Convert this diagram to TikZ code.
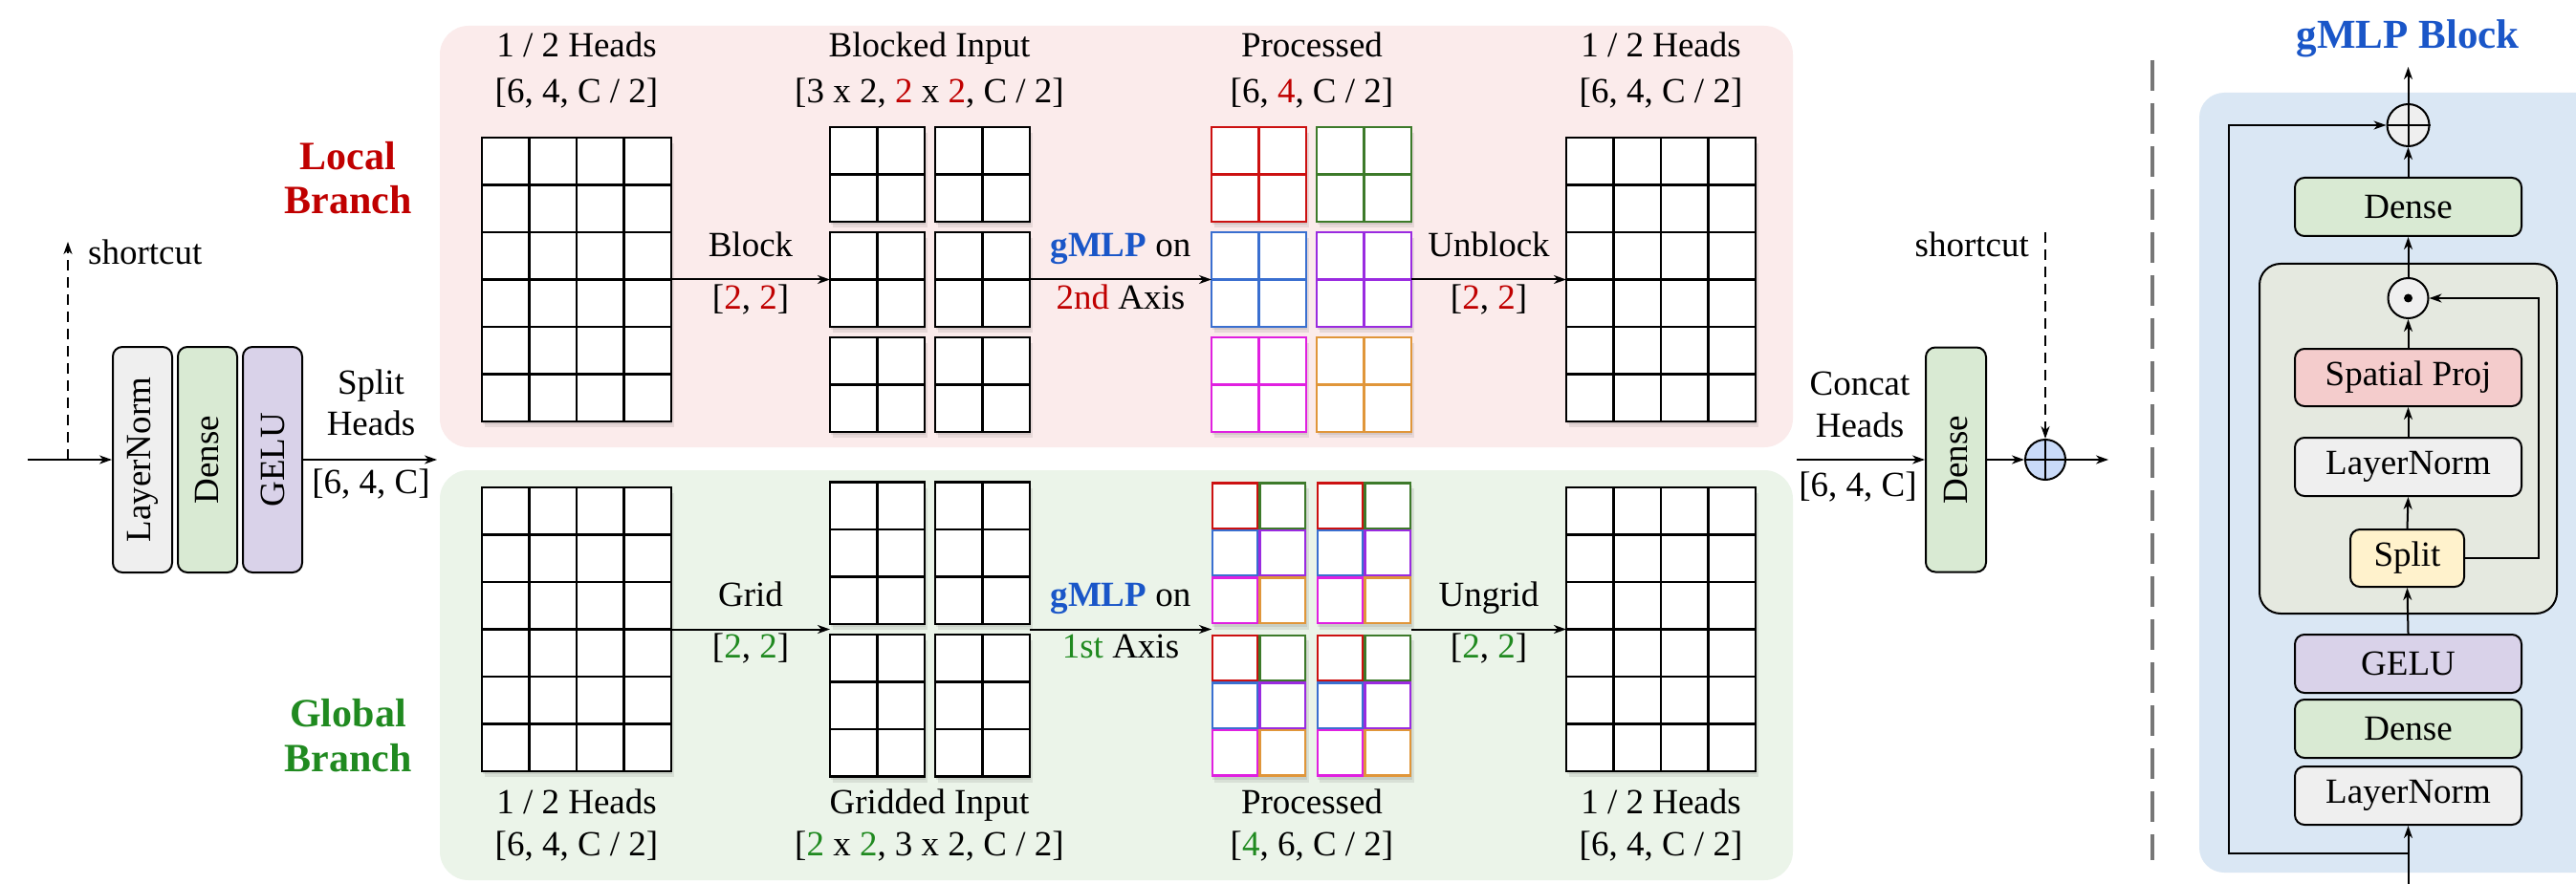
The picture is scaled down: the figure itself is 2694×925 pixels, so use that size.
\documentclass[tikz,border=0pt]{standalone}
\usepackage{fontspec}
\setmainfont{Liberation Serif}
\usetikzlibrary{arrows.meta}

\definecolor{lnfill}{HTML}{EFEFEF}
\definecolor{densefill}{HTML}{D9EAD3}
\definecolor{gelufill}{HTML}{D9D2E9}
\definecolor{spfill}{HTML}{F4CCCC}
\definecolor{splitfill}{HTML}{FFF2CC}
\definecolor{localbg}{HTML}{FBEBEB}
\definecolor{globalbg}{HTML}{EBF4E9}
\definecolor{blockbg}{HTML}{DAE7F4}
\definecolor{innerbg}{HTML}{E5E9E0}
\definecolor{addfill}{HTML}{C9DAF8}
\definecolor{opfill}{HTML}{EFEFEF}
\definecolor{lred}{HTML}{C00000}
\definecolor{ggreen}{HTML}{208A20}
\definecolor{gblue}{HTML}{1A56C8}
\definecolor{cred}{HTML}{CC1111}
\definecolor{cgreen}{HTML}{3D7A2A}
\definecolor{cblue}{HTML}{3A6FD0}
\definecolor{cpurple}{HTML}{9A2BE0}
\definecolor{cmag}{HTML}{E020E0}
\definecolor{corange}{HTML}{E0963A}
\definecolor{sepgray}{HTML}{777777}

% a block of square cells (49.5 units each): left, top, columns, rows, colour
\newcommand{\cellblock}[5]{%
  \fill[black, opacity=.08] ({#1+1},{#2+3}) rectangle ({#1+#3*49.5+1},{#2+#4*49.5+3});
  \fill[black, opacity=.08] ({#1+3},{#2+6}) rectangle ({#1+#3*49.5+3},{#2+#4*49.5+6});
  \fill[white] (#1,#2) rectangle ({#1+#3*49.5},{#2+#4*49.5});
  \foreach \ci in {1,...,#3}{\draw[cellline, draw=#5] ({#1+\ci*49.5},#2) -- ++(0,{#4*49.5});}
  \foreach \cj in {1,...,#4}{\draw[cellline, draw=#5] (#1,{#2+\cj*49.5}) -- ++({#3*49.5},0);}
  \draw[cellline, draw=#5] (#1,#2) rectangle ({#1+#3*49.5},{#2+#4*49.5});
}
% a 2 x 3 block whose cells carry the colours of their source windows
\newcommand{\mixblock}[2]{%
  \fill[black, opacity=.08] ({#1+1},{#2+3}) rectangle ({#1+99+1},{#2+148.5+3});
  \fill[black, opacity=.08] ({#1+3},{#2+6}) rectangle ({#1+99+3},{#2+148.5+6});
  \fill[white] (#1,#2) rectangle ({#1+99},{#2+148.5});
  \foreach \r/\ca/\cb in {0/cred/cgreen, 1/cblue/cpurple, 2/cmag/corange}{
    \draw[mixline, draw=\ca] ({#1+1},{#2+\r*49.5+1}) rectangle ++(47.5,47.5);
    \draw[mixline, draw=\cb] ({#1+50.5},{#2+\r*49.5+1}) rectangle ++(47.5,47.5);
  }
}

\begin{document}
\begin{tikzpicture}[x=1pt, y=-1pt,
  every node/.style={font=\fontsize{37}{44}\selectfont},
  lbl/.style={inner sep=0pt, text height=0.69em, text depth=0.2em},
  branchlbl/.style={inner sep=0pt, font=\fontsize{42}{50}\selectfont\bfseries, text height=0.69em, text depth=0.2em},
  extent/.style={inner sep=0pt, outer sep=0pt, draw=none},
  cellline/.style={line width=2.6pt, line cap=rect},
  mixline/.style={line width=2.4pt},
  arr/.style={line width=2pt, -{Stealth[length=13pt, width=9pt, inset=4pt]}},
  shortcutline/.style={line width=2pt, dash pattern=on 11pt off 7pt},
  layerbox/.style={draw, line width=2pt, rounded corners=10pt, inner sep=0pt},
  opnode/.style={circle, draw, line width=2pt, inner sep=0pt},
  sepline/.style={line width=4.5pt, draw=sepgray, dash pattern=on 32pt off 13pt}
]
\path[use as bounding box, fill=white] (0,0) rectangle (2694,925);

% ---------------- branch backgrounds ----------------
\fill[localbg, rounded corners=30pt] (460,27) rectangle (1875,468);
\fill[globalbg, rounded corners=30pt] (460,492) rectangle (1875,921);

% ---------------- input stage ----------------
\node[layerbox, fill=lnfill, minimum width=62pt, minimum height=236pt] (ln) at (149,481) {};
\node[layerbox, fill=densefill, minimum width=62pt, minimum height=236pt] (dn) at (217,481) {};
\node[layerbox, fill=gelufill, minimum width=62pt, minimum height=236pt] (gl) at (285,481) {};
\node[rotate=90, inner sep=0pt] (lnt) at (ln.center) {LayerNorm};
\node[rotate=90, inner sep=0pt] (dnt) at (dn.center) {Dense};
\node[rotate=90, inner sep=0pt] (glt) at (gl.center) {GELU};

\coordinate (inL) at (29,481);
\coordinate (scL) at (71,481);
\coordinate (scLtop) at (71,253);
\coordinate (splitend) at (457,481);
\draw[arr] (inL) -- (ln.west);
\draw[shortcutline, -{Stealth[length=13pt, width=9pt, inset=4pt]}] (scL) -- (scLtop);
\node[lbl, anchor=west] (scLtxt) at (92,274) {shortcut};
\draw[arr] (gl.east) -- (splitend);
\node[lbl] (splitA) at (388,410) {Split};
\node[lbl] (splitB) at (388,453) {Heads};
\node[lbl] (splitC) at (388,514) {[6, 4, C]};

\node[branchlbl, text=lred] (locA) at (364,175) {Local};
\node[branchlbl, text=lred] (locB) at (364,221) {Branch};
\node[branchlbl, text=ggreen] (gloA) at (364,758) {Global};
\node[branchlbl, text=ggreen] (gloB) at (364,805) {Branch};

% ---------------- local branch ----------------
\node[extent, minimum width=198pt, minimum height=297pt] (Lin) at (603,292.5) {};
\node[extent, minimum width=209pt, minimum height=319pt] (Lblk) at (972.5,292.5) {};
\node[extent, minimum width=209pt, minimum height=319pt] (Lproc) at (1371.5,292.5) {};
\node[extent, minimum width=198pt, minimum height=297pt] (Lout) at (1737,292.5) {};

\cellblock{504}{144}{4}{6}{black}
\foreach \by in {133,243,353}{
  \cellblock{868}{\by}{2}{2}{black}
  \cellblock{978}{\by}{2}{2}{black}
}
\cellblock{1267}{133}{2}{2}{cred}
\cellblock{1377}{133}{2}{2}{cgreen}
\cellblock{1267}{243}{2}{2}{cblue}
\cellblock{1377}{243}{2}{2}{cpurple}
\cellblock{1267}{353}{2}{2}{cmag}
\cellblock{1377}{353}{2}{2}{corange}
\cellblock{1638}{144}{4}{6}{black}

\draw[arr] (Lin.east) -- (Lblk.west);
\draw[arr] (Lblk.east) -- (Lproc.west);
\draw[arr] (Lproc.east) -- (Lout.west);

\node[lbl] (lt1) at (603,57) {1 / 2 Heads};
\node[lbl] (lt2) at (603,105) {[6, 4, C / 2]};
\node[lbl] (lt3) at (972,57) {Blocked Input};
\node[lbl] (lt4) at (972,105) {[3 x 2, \textcolor{lred}{2} x \textcolor{lred}{2}, C / 2]};
\node[lbl] (lt5) at (1372,57) {Processed};
\node[lbl] (lt6) at (1372,105) {[6, \textcolor{lred}{4}, C / 2]};
\node[lbl] (lt7) at (1737,57) {1 / 2 Heads};
\node[lbl] (lt8) at (1737,105) {[6, 4, C / 2]};
\node[lbl] (la1) at (785,266) {Block};
\node[lbl] (la2) at (785,321) {[\textcolor{lred}{2}, \textcolor{lred}{2}]};
\node[lbl] (la3) at (1172,266) {\textbf{\textcolor{gblue}{gMLP}} on};
\node[lbl] (la4) at (1172,321) {\textcolor{lred}{2nd} Axis};
\node[lbl] (la5) at (1557,266) {Unblock};
\node[lbl] (la6) at (1557,321) {[\textcolor{lred}{2}, \textcolor{lred}{2}]};

% ---------------- global branch ----------------
\node[extent, minimum width=198pt, minimum height=297pt] (Gin) at (603,658.5) {};
\node[extent, minimum width=209pt, minimum height=308pt] (Gblk) at (972.5,658.5) {};
\node[extent, minimum width=209pt, minimum height=308pt] (Gproc) at (1371.5,658.5) {};
\node[extent, minimum width=198pt, minimum height=297pt] (Gout) at (1737,658.5) {};

\cellblock{504}{510}{4}{6}{black}
\foreach \by in {504.5,664}{
  \cellblock{868}{\by}{2}{3}{black}
  \cellblock{978}{\by}{2}{3}{black}
  \mixblock{1267}{\by}
  \mixblock{1377}{\by}
}
\cellblock{1638}{510}{4}{6}{black}

\draw[arr] (Gin.east) -- (Gblk.west);
\draw[arr] (Gblk.east) -- (Gproc.west);
\draw[arr] (Gproc.east) -- (Gout.west);

\node[lbl] (gt1) at (603,849) {1 / 2 Heads};
\node[lbl] (gt2) at (603,893) {[6, 4, C / 2]};
\node[lbl] (gt3) at (972,849) {Gridded Input};
\node[lbl] (gt4) at (972,893) {[\textcolor{ggreen}{2} x \textcolor{ggreen}{2}, 3 x 2, C / 2]};
\node[lbl] (gt5) at (1372,849) {Processed};
\node[lbl] (gt6) at (1372,893) {[\textcolor{ggreen}{4}, 6, C / 2]};
\node[lbl] (gt7) at (1737,849) {1 / 2 Heads};
\node[lbl] (gt8) at (1737,893) {[6, 4, C / 2]};
\node[lbl] (ga1) at (785,632) {Grid};
\node[lbl] (ga2) at (785,686) {[\textcolor{ggreen}{2}, \textcolor{ggreen}{2}]};
\node[lbl] (ga3) at (1172,632) {\textbf{\textcolor{gblue}{gMLP}} on};
\node[lbl] (ga4) at (1172,686) {\textcolor{ggreen}{1st} Axis};
\node[lbl] (ga5) at (1557,632) {Ungrid};
\node[lbl] (ga6) at (1557,686) {[\textcolor{ggreen}{2}, \textcolor{ggreen}{2}]};

% ---------------- output stage ----------------
\coordinate (catstart) at (1879,481);
\node[layerbox, fill=densefill, minimum width=63pt, minimum height=235pt] (dn2) at (2045.5,481) {};
\node[rotate=90, inner sep=0pt] (dn2t) at (dn2.center) {Dense};
\node[opnode, fill=addfill, minimum size=42pt] (radd) at (2139,481) {};
\draw[line width=2pt] (radd.north) -- (radd.south) (radd.west) -- (radd.east);
\coordinate (scRtop) at (2139,243);
\coordinate (outR) at (2205,481);
\draw[arr] (catstart) -- (dn2.west);
\draw[arr] (dn2.east) -- (radd.west);
\draw[arr] (radd.east) -- (outR);
\draw[shortcutline, -{Stealth[length=13pt, width=9pt, inset=4pt]}] (scRtop) -- (radd.north);
\node[lbl, anchor=east] (scRtxt) at (2122,266) {shortcut};
\node[lbl] (catA) at (1945,411) {Concat};
\node[lbl] (catB) at (1945,455) {Heads};
\node[lbl] (catC) at (1943,517) {[6, 4, C]};

% ---------------- separator ----------------
\draw[sepline] (2251,63) -- (2251,900);

% ---------------- gMLP block ----------------
\fill[blockbg, rounded corners=26pt] (2300,97) rectangle (2760,913);
\node[branchlbl, text=gblue, font=\fontsize{43}{50}\selectfont\bfseries] (gtitle) at (2518,48) {gMLP Block};

\node[draw, line width=2pt, fill=innerbg, rounded corners=22pt, minimum width=311pt, minimum height=366pt, inner sep=0pt] (gate) at (2518.5,459) {};

\node[layerbox, fill=densefill, minimum width=237pt, minimum height=61pt] (gDense) at (2518.5,216.5) {Dense};
\node[layerbox, fill=spfill, minimum width=237pt, minimum height=60pt] (gSP) at (2518.5,395) {Spatial Proj};
\node[layerbox, fill=lnfill, minimum width=237pt, minimum height=61pt] (gLN2) at (2518.5,488.5) {LayerNorm};
\node[layerbox, fill=splitfill, minimum width=119pt, minimum height=60pt] (gSplit) at (2517.5,584) {Split};
\node[layerbox, fill=gelufill, minimum width=237pt, minimum height=61pt] (gGELU) at (2518.5,694.5) {GELU};
\node[layerbox, fill=densefill, minimum width=237pt, minimum height=61pt] (gDense1) at (2518.5,762.5) {Dense};
\node[layerbox, fill=lnfill, minimum width=237pt, minimum height=61pt] (gLN1) at (2518.5,832.5) {LayerNorm};

\node[opnode, fill=opfill, minimum size=44pt] (gadd) at (2518.5,131) {};
\draw[line width=2pt] (gadd.north) -- (gadd.south) (gadd.west) -- (gadd.east);
\node[opnode, fill=opfill, minimum size=42pt] (gmul) at (2518.5,312) {};
\fill (gmul.center) circle (4.5pt);

\coordinate (gin) at (2518.5,925);
\coordinate (gskip) at (2518.5,893);
\coordinate (gskipcorner) at (2331,131);
\coordinate (gout) at (2518.5,70);
\coordinate (ggate) at (2655,584);

\draw[arr] (gin) -- (gLN1.south);
\draw[arr] (gskip) -| (gskipcorner) -- (gadd.west);
\draw[arr] (gGELU.north) -- (gSplit.south);
\draw[arr] (gSplit.north) -- (gLN2.south);
\draw[arr] (gLN2.north) -- (gSP.south);
\draw[arr] (gSP.north) -- (gmul.south);
\draw[arr] (gSplit.east) -- (ggate) |- (gmul.east);
\draw[arr] (gmul.north) -- (gDense.south);
\draw[arr] (gDense.north) -- (gadd.south);
\draw[arr] (gadd.north) -- (gout);
\end{tikzpicture}
\end{document}
